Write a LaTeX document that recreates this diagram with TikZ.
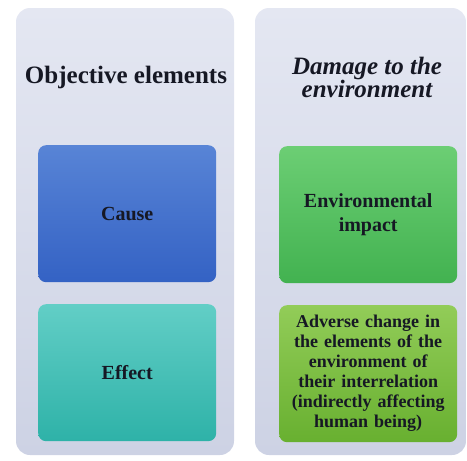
\documentclass[tikz,border=0pt]{standalone}
\usepackage{fontspec}
\setmainfont{Liberation Serif}
\definecolor{paneltop}{RGB}{228,231,242}
\definecolor{panelbot}{RGB}{205,210,228}
\definecolor{causetop}{RGB}{88,132,214}
\definecolor{causebot}{RGB}{52,98,196}
\definecolor{effecttop}{RGB}{98,206,198}
\definecolor{effectbot}{RGB}{46,178,168}
\definecolor{impacttop}{RGB}{108,206,116}
\definecolor{impactbot}{RGB}{66,178,80}
\definecolor{changetop}{RGB}{146,204,88}
\definecolor{changebot}{RGB}{104,176,48}
\definecolor{ink}{RGB}{22,24,36}
\begin{document}
\begin{tikzpicture}[
    x = 1pt, y = -1pt,
    panel/.style = {rounded corners=14pt, top color=paneltop, bottom color=panelbot, draw=none},
    box/.style = {rounded corners=8pt, anchor=north west, inner sep=2pt,
                  minimum width=178pt, minimum height=137pt, text width=172pt,
                  align=center, text=ink, font=\bfseries\fontsize{20}{24}\selectfont},
    head/.style = {align=center, text=ink, font=\bfseries\fontsize{25}{23}\selectfont},
  ]
  \useasboundingbox (0,0) rectangle (467,461);
  % the two columns
  \path[panel] (16,8) rectangle (234,455);
  \path[panel] (255,8) rectangle (466,455);
  % headings
  \node[head] (objective) at (126,77) {Objective elements};
  \node[head, font=\bfseries\itshape\fontsize{25}{23}\selectfont] (damage) at (367,77) {Damage to the\\environment};
  % left column
  \node[box, top color=causetop, bottom color=causebot] (cause) at (38,145) {Cause};
  \node[box, top color=effecttop, bottom color=effectbot] (effect) at (38,304) {Effect};
  % right column
  \node[box, top color=impacttop, bottom color=impactbot] (impact) at (279,146) {Environmental\\impact};
  \node[box, top color=changetop, bottom color=changebot,
        font=\bfseries\fontsize{18}{20}\selectfont] (change) at (279,305)
    {Adverse change in\\the elements of the\\environment of\\their interrelation\\(indirectly affecting\\human being)};
\end{tikzpicture}
\end{document}
